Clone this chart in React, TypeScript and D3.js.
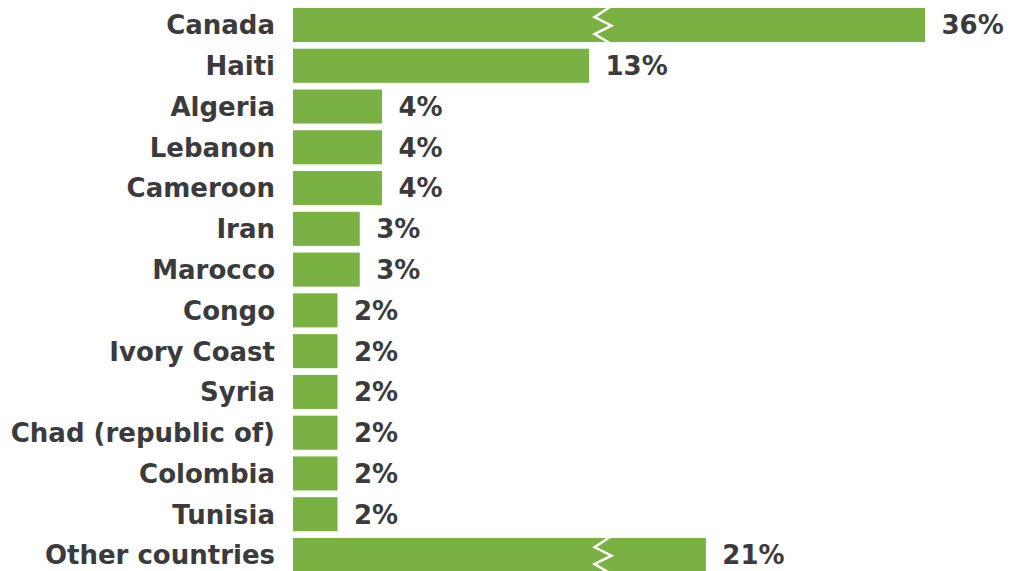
import React from "react";
import * as d3 from "d3";

const countries = [
  "Canada", "Haiti", "Algeria", "Lebanon", "Cameroon", "Iran", "Marocco",
  "Congo", "Ivory Coast", "Syria", "Chad (republic of)", "Colombia", "Tunisia", "Other countries",
];
const shares = [36, 13, 4, 4, 4, 3, 3, 2, 2, 2, 2, 2, 2, 21];
const brokenBars = ["Canada", "Other countries"];

const W = 1011;
const H = 571;
const GREEN = "#79b142";
const TEXT = "#3b3b3d";
const FONT = "'DejaVu Sans', sans-serif";

export default function App() {
  const x0 = 293;
  // piecewise scale: the two large bars are drawn shortened with a break mark
  const x = d3.scaleLinear().domain([0, 4, 13, 36]).range([x0, x0 + 89, x0 + 296, x0 + 632]);
  const y = d3.scaleBand<string>().domain(countries).range([4.6, 4.6 + 14 * 40.77]).paddingInner(0.165).paddingOuter(0.0825);

  return (
    <svg width={W} height={H} style={{ position: "absolute", left: 0, top: 0, background: "#fff" }}>
      {countries.map((c, i) => {
        const v = shares[i];
        const yy = y(c)!;
        const bh = y.bandwidth();
        const xe = x(v);
        const cy = yy + bh / 2;
        const broken = brokenBars.includes(c);
        const bx = x0 + 310;
        const zz = 8.5;
        const zig = broken
          ? d3.line()([
              [bx + zz, yy - 2],
              [bx - zz, yy + bh * 0.27],
              [bx + zz, yy + bh * 0.52],
              [bx - zz, yy + bh * 0.77],
              [bx + zz, yy + bh + 2],
            ])
          : null;
        return (
          <g key={c}>
            <rect x={x0} y={yy} width={xe - x0} height={bh} fill={GREEN} />
            {zig && <path d={zig} fill="none" stroke="#fff" strokeWidth={2.5} />}
            <text x={275} y={cy} dy="0.36em" textAnchor="end" fontFamily={FONT} fontWeight={700} fontSize={26} fill={TEXT}>
              {c}
            </text>
            <text x={xe + 16.5} y={cy} dy="0.36em" textAnchor="start" fontFamily={FONT} fontWeight={700} fontSize={26} fill={TEXT}>
              {v}%
            </text>
          </g>
        );
      })}
    </svg>
  );
}
